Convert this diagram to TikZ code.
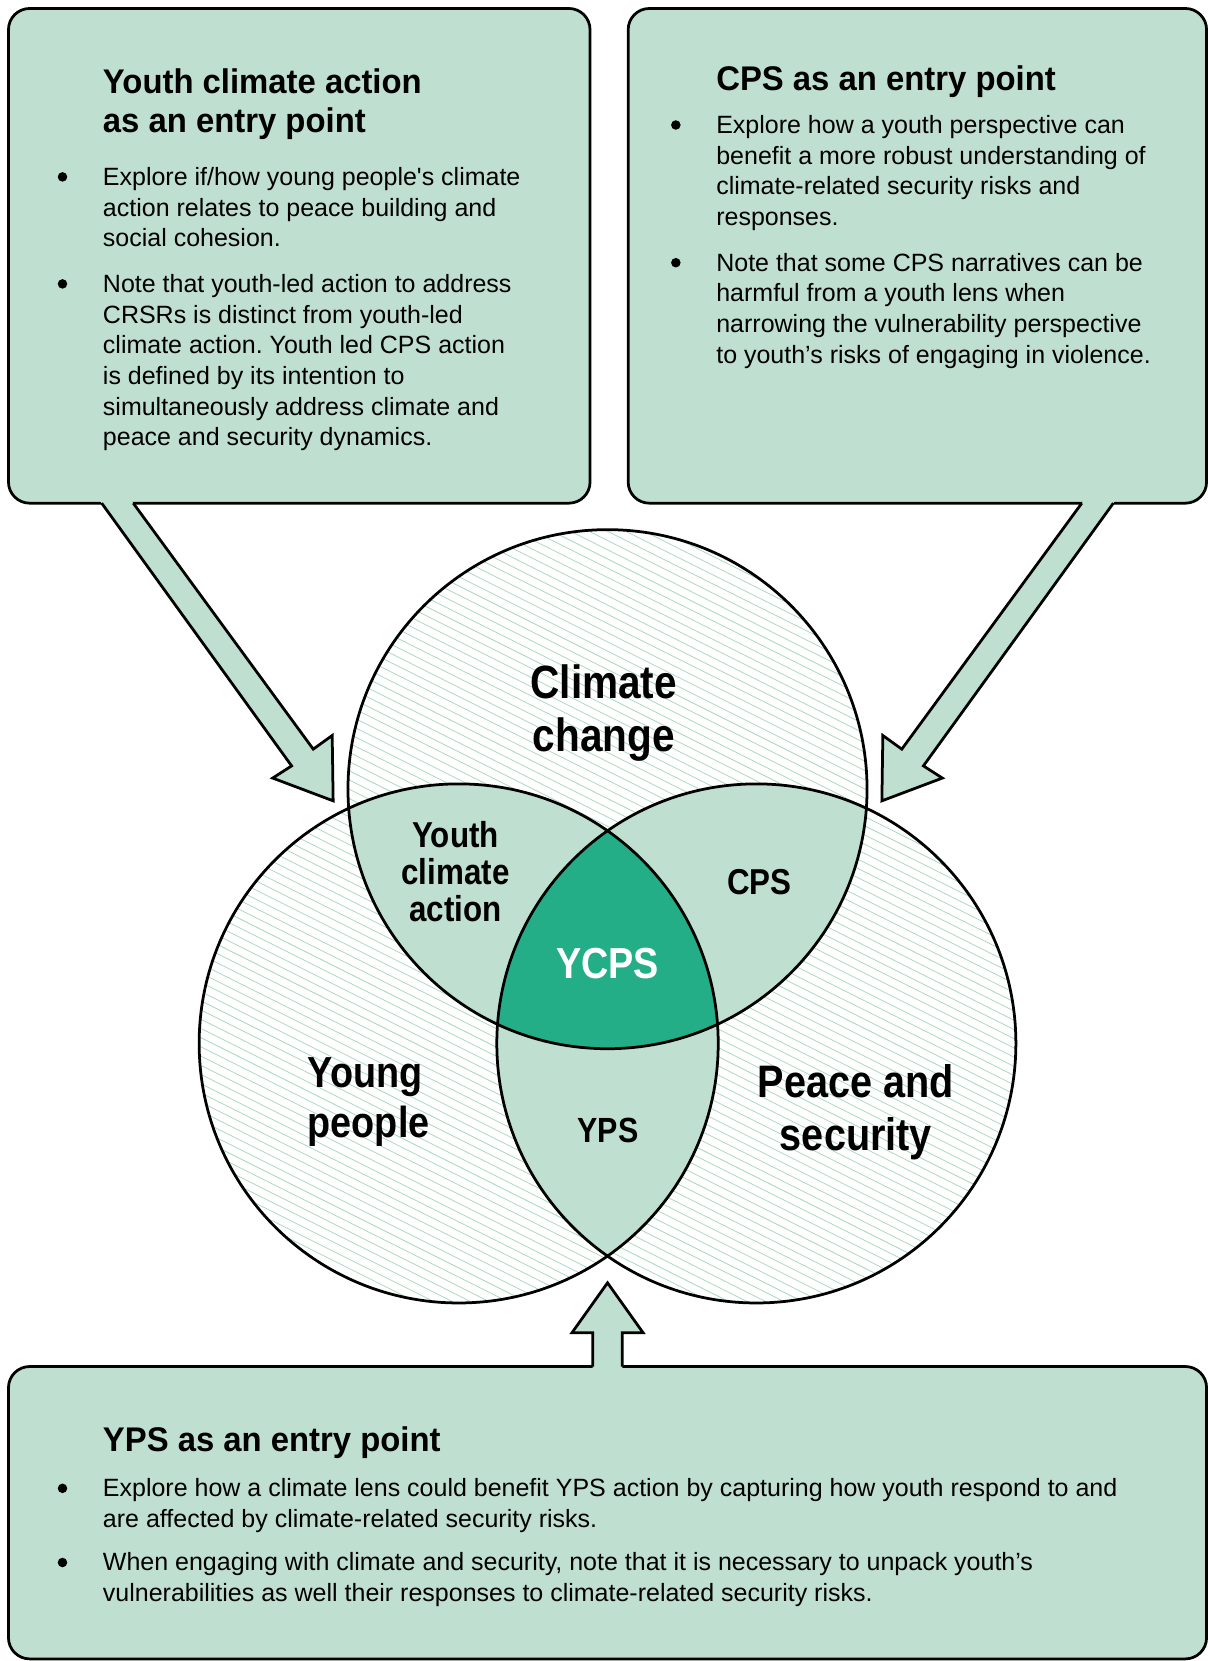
\documentclass[tikz,border=0pt]{standalone}
\usepackage{fontspec}
\setmainfont{Liberation Sans}
\newfontfamily\headfont{Liberation Sans}[FakeStretch=0.96]
\newfontfamily\vennfont{Liberation Sans}[FakeStretch=0.87]
\frenchspacing
\definecolor{boxgreen}{HTML}{BFE0D0}
\definecolor{ycpsgreen}{HTML}{23AE87}
\definecolor{hatchgreen}{HTML}{A9D9C2}
\tikzset{
  entrybox/.style={draw,line width=2.6pt,fill=boxgreen,rounded corners=20pt,inner sep=0pt},
  arrowline/.style={line width=2.6pt,line join=miter},
  vennline/.style={line width=2.6pt},
  hatch/.style={hatchgreen,line width=0.75pt},
  boxtitle/.style={anchor=base west,inner sep=0pt,align=left,font=\headfont\bfseries\fontsize{32.3}{37}\selectfont},
  boxtext/.style={anchor=base west,inner sep=0pt,align=left,font=\fontsize{23.6}{29}\selectfont},
  dot/.style={circle,fill,inner sep=0pt,minimum size=9pt},
  vennlabel/.style 2 args={align=center,inner sep=0pt,font=\vennfont\bfseries\fontsize{#1}{#2}\selectfont},
}
\begin{document}
\begin{tikzpicture}[x=1pt,y=-1pt]
\useasboundingbox (0,0) rectangle (1140,1568);
\coordinate (cc) at (573.5,745);
\coordinate (yp) at (433,985);
\coordinate (ps) at (714,985);

\begin{scope}
\clip (cc) circle [radius=245pt] (yp) circle [radius=245pt] (ps) circle [radius=245pt];
\foreach \c in {180,188.7,...,1050}
  \draw [hatch] (180,90+\c) -- (970,485+\c);
\end{scope}
\begin{scope}
\clip (cc) circle [radius=245pt];
\fill [boxgreen] (yp) circle [radius=245pt];
\fill [boxgreen] (ps) circle [radius=245pt];
\end{scope}
\begin{scope}
\clip (yp) circle [radius=245pt];
\fill [boxgreen] (ps) circle [radius=245pt];
\end{scope}
\begin{scope}
\clip (cc) circle [radius=245pt];
\clip (yp) circle [radius=245pt];
\fill [ycpsgreen] (ps) circle [radius=245pt];
\end{scope}
\draw [vennline] (cc) circle [radius=245pt] (yp) circle [radius=245pt] (ps) circle [radius=245pt];

\node (ycabox) at (282.5,241.5) [entrybox,minimum width=549pt,minimum height=467pt] {};
\node (cpsbox) at (866,241.5)   [entrybox,minimum width=546pt,minimum height=467pt] {};
\node (ypsbox) at (573.5,1428)  [entrybox,minimum width=1131pt,minimum height=276pt] {};

\coordinate (ycatip) at (314.5,756);
\coordinate (cpstip) at (832.5,756);
\coordinate (ypstip) at (573.5,1211);

\fill [boxgreen] (93.1,471) -- (275.3,723) -- (257.4,734.5) -- (ycatip) -- (313.6,694.3) -- (295.7,707.2) -- (122.9,471) -- cycle;
\draw [arrowline] (125.8,475) -- (295.7,707.2) -- (313.6,694.3) -- (ycatip) -- (257.4,734.5) -- (275.3,723) -- (96,475);
\fill [boxgreen] (1053.9,471) -- (871.7,723) -- (889.6,734.5) -- (cpstip) -- (833.4,694.3) -- (851.3,707.2) -- (1024.1,471) -- cycle;
\draw [arrowline] (1021.2,475) -- (851.3,707.2) -- (833.4,694.3) -- (cpstip) -- (889.6,734.5) -- (871.7,723) -- (1051,475);
\fill [boxgreen] (559.5,1294) -- (559.5,1258) -- (540,1258) -- (ypstip) -- (607,1258) -- (587.5,1258) -- (587.5,1294) -- cycle;
\draw [arrowline] (559.5,1290) -- (559.5,1258) -- (540,1258) -- (ypstip) -- (607,1258) -- (587.5,1258) -- (587.5,1290);

\node (ycatitle) at (97,125)  [boxtitle] {Youth climate action\\as an entry point};
\node (ycadot1)  at (59,167)  [dot] {};
\node (ycatext1) at (97,233)  [boxtext] {Explore if/how young people\textquotesingle s climate\\action relates to peace building and\\social cohesion.};
\node (ycadot2)  at (59,268)  [dot] {};
\node (ycatext2) at (97,421)  [boxtext] {Note that youth-led action to address\\CRSRs is distinct from youth-led\\climate action. Youth led CPS action\\is defined by its intention to\\simultaneously address climate and\\peace and security dynamics.};

\node (cpstitle) at (676,85)  [boxtitle] {CPS as an entry point};
\node (cpsdot1)  at (638,118) [dot] {};
\node (cpstext1) at (676,213) [boxtext] {Explore how a youth perspective can\\benefit a more robust understanding of\\climate-related security risks and\\responses.};
\node (cpsdot2)  at (638,248) [dot] {};
\node (cpstext2) at (676,343) [boxtext] {Note that some CPS narratives can be\\harmful from a youth lens when\\narrowing the vulnerability perspective\\to youth’s risks of engaging in violence.};

\node (ypstitle) at (97,1370)  [boxtitle] {YPS as an entry point};
\node (ypsdot1)  at (59,1405)  [dot] {};
\node (ypstext1) at (97,1442)  [boxtext] {Explore how a climate lens could benefit YPS action by capturing how youth respond to and\\are affected by climate-related security risks.};
\node (ypsdot2)  at (59,1475)  [dot] {};
\node (ypstext2) at (97,1512)  [boxtext] {When engaging with climate and security, note that it is necessary to unpack youth’s\\vulnerabilities as well their responses to climate-related security risks.};

\node (cclabel)   at (570,673)   [vennlabel={44}{50}] {Climate\\change};
\node (yplabel)   at (348,1040)  [vennlabel={41}{47},align=left] {Young\\people};
\node (pslabel)   at (808,1050)  [vennlabel={43}{50}] {Peace and\\security};
\node (ycalabel)  at (430,823)   [vennlabel={34}{35}] {Youth\\climate\\action};
\node (cpslabel)  at (717,833)   [vennlabel={34}{40}] {CPS};
\node (ycpslabel) at (573.5,910) [vennlabel={41}{47},white] {YCPS};
\node (ypslabel)  at (574,1067)  [vennlabel={33}{40}] {YPS};
\end{tikzpicture}
\end{document}
